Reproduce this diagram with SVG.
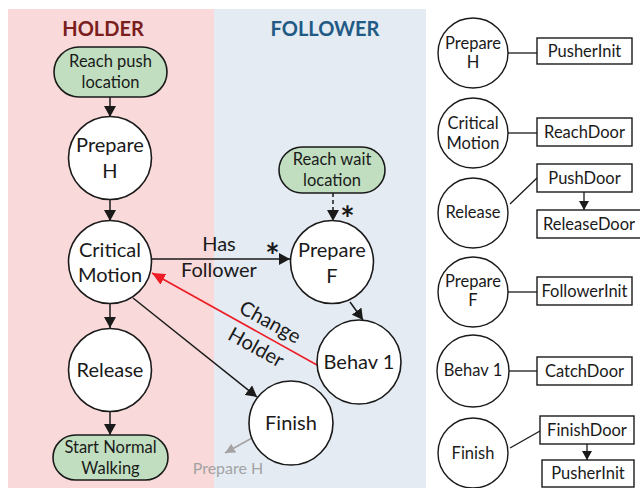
<svg xmlns="http://www.w3.org/2000/svg" width="640" height="488" viewBox="0 0 640 488">
<style>
text{font-family:Lato,"Liberation Sans",sans-serif;fill:#1a1a1a;text-anchor:middle}
.big{font-size:20px}
.mid{font-size:16.5px}
.node{fill:#fff;stroke:#1a1a1a;stroke-width:1.6}
.green{fill:#c1dfc0;stroke:#1a1a1a;stroke-width:1.6}
.box{fill:#fff;stroke:#1a1a1a;stroke-width:1.4}
.sm{fill:#fff;stroke:#1a1a1a;stroke-width:1.4}
.ln{stroke:#1a1a1a;stroke-width:1.5;fill:none}
.hd{font-size:20px;font-weight:bold}
.ast{font-size:34px;font-weight:bold}
</style>
<defs>
<marker id="ah" markerUnits="userSpaceOnUse" markerWidth="11" markerHeight="12" refX="11" refY="6" orient="auto" viewBox="0 0 11 12"><path d="M0,0 L11,6 L0,12 z" fill="#1a1a1a"/></marker>
<marker id="ahs" markerUnits="userSpaceOnUse" markerWidth="9" markerHeight="10" refX="9" refY="5" orient="auto" viewBox="0 0 9 10"><path d="M0,0 L9,5 L0,10 z" fill="#1a1a1a"/></marker>
<marker id="ar" markerUnits="userSpaceOnUse" markerWidth="13" markerHeight="12" refX="13" refY="6" orient="auto" viewBox="0 0 13 12"><path d="M0,0 L13,6 L0,12 z" fill="#ee1c24"/></marker>
<marker id="ag" markerUnits="userSpaceOnUse" markerWidth="10" markerHeight="10" refX="10" refY="5" orient="auto" viewBox="0 0 10 10"><path d="M0,0 L10,5 L0,10 z" fill="#a3a3a3"/></marker>
</defs>
<g id="lanes">
<rect x="8" y="9" width="206" height="479" fill="#f9d9d9"/>
<rect x="214" y="9" width="212" height="479" fill="#e4ebf3"/>
<text class="hd" x="103" y="36" style="fill:#7a1e1e">HOLDER</text>
<text class="hd" x="325" y="36" style="fill:#215a84">FOLLOWER</text>
</g>
<g id="connectors">
<line class="ln" x1="110" y1="97" x2="110" y2="117" marker-end="url(#ah)"/>
<line class="ln" x1="110" y1="200" x2="110" y2="221" marker-end="url(#ah)"/>
<line class="ln" x1="110" y1="303" x2="110" y2="328" marker-end="url(#ah)"/>
<line class="ln" x1="110" y1="412" x2="110" y2="435" marker-end="url(#ah)"/>
<line class="ln" x1="152" y1="259" x2="290" y2="259" marker-end="url(#ah)"/>
<line class="ln" x1="333" y1="193" x2="333" y2="221" stroke-dasharray="4,3" marker-end="url(#ah)"/>
<line class="ln" x1="350" y1="302" x2="363" y2="320" marker-end="url(#ah)"/>
<line x1="317" y1="365" x2="152" y2="273" stroke="#ee1c24" stroke-width="1.6" marker-end="url(#ar)"/>
<line class="ln" x1="133" y1="298" x2="257" y2="397" marker-end="url(#ah)"/>
<line x1="252" y1="438" x2="225" y2="453" stroke="#a3a3a3" stroke-width="1.6" marker-end="url(#ag)"/>
<text class="big" x="219" y="251">Has</text>
<text class="big" x="219" y="277">Follower</text>
<text class="ast" x="272.5" y="268">*</text>
<text class="ast" x="347.5" y="231">*</text>
<g transform="translate(263,335) rotate(29)">
<text class="big" x="0" y="-8">Change</text>
<text class="big" x="0" y="21">Holder</text>
</g>
<text x="228" y="474" style="font-size:16px;fill:#a3a3a3">Prepare H</text>
<line class="ln" x1="508" y1="53" x2="537" y2="53" style="stroke-width:1.3"/>
<line class="ln" x1="508" y1="133" x2="537" y2="133" style="stroke-width:1.3"/>
<line class="ln" x1="510" y1="204" x2="537" y2="178" style="stroke-width:1.3"/>
<line class="ln" x1="584" y1="192" x2="584" y2="210" style="stroke-width:1.3" marker-end="url(#ahs)"/>
<line class="ln" x1="508" y1="292" x2="537" y2="292" style="stroke-width:1.3"/>
<line class="ln" x1="509" y1="371" x2="537" y2="371" style="stroke-width:1.3"/>
<line class="ln" x1="510" y1="448" x2="540" y2="431" style="stroke-width:1.3"/>
<line class="ln" x1="587" y1="444" x2="587" y2="460" style="stroke-width:1.3" marker-end="url(#ahs)"/>
</g>
<g id="reach-push"><rect class="green" x="54" y="47" width="113" height="50" rx="25"/><text class="mid" x="110.5" y="67">Reach push</text><text class="mid" x="110.5" y="88">location</text></g>
<g id="prepare-h"><circle class="node" cx="110" cy="158" r="41.5"/><text class="big" x="110" y="152">Prepare</text><text class="big" x="110" y="178">H</text></g>
<g id="critical-motion"><circle class="node" cx="110" cy="262" r="41.5"/><text class="big" x="110" y="257">Critical</text><text class="big" x="110" y="282">Motion</text></g>
<g id="release"><circle class="node" cx="110" cy="370" r="41.5"/><text class="big" x="110" y="377">Release</text></g>
<g id="start-walking"><rect class="green" x="53" y="435" width="115" height="45" rx="22.5"/><text class="mid" x="110.5" y="453">Start Normal</text><text class="mid" x="110.5" y="474">Walking</text></g>
<g id="reach-wait"><rect class="green" x="279" y="147" width="106" height="46" rx="23"/><text class="mid" x="332" y="165">Reach wait</text><text class="mid" x="332" y="186">location</text></g>
<g id="prepare-f"><circle class="node" cx="332" cy="262" r="41.5"/><text class="big" x="332" y="257">Prepare</text><text class="big" x="332" y="283">F</text></g>
<g id="behav1"><circle class="node" cx="359" cy="362" r="42"/><text class="big" x="359" y="369">Behav 1</text></g>
<g id="finish"><circle class="node" cx="291" cy="423" r="42"/><text class="big" x="291" y="430">Finish</text></g>
<g id="r-prepare-h"><circle class="sm" cx="473" cy="53" r="35"/><text class="mid" x="473" y="49">Prepare</text><text class="mid" x="473" y="68">H</text></g>
<g id="r-pusherinit"><rect class="box" x="537" y="38" width="95" height="26"/><text class="mid" x="584.5" y="57">PusherInit</text></g>
<g id="r-critical"><circle class="sm" cx="473" cy="133" r="35"/><text class="mid" x="473" y="129">Critical</text><text class="mid" x="473" y="149">Motion</text></g>
<g id="r-reachdoor"><rect class="box" x="537" y="118" width="95" height="28"/><text class="mid" x="584.5" y="138">ReachDoor</text></g>
<g id="r-release"><circle class="sm" cx="473" cy="213" r="35"/><text class="mid" x="473" y="218">Release</text></g>
<g id="r-pushdoor"><rect class="box" x="537" y="164" width="95" height="28"/><text class="mid" x="584.5" y="184">PushDoor</text></g>
<g id="r-releasedoor"><rect class="box" x="537" y="210" width="106" height="28"/><text class="mid" x="589" y="230">ReleaseDoor</text></g>
<g id="r-prepare-f"><circle class="sm" cx="473" cy="292" r="35"/><text class="mid" x="473" y="287">Prepare</text><text class="mid" x="473" y="306">F</text></g>
<g id="r-followerinit"><rect class="box" x="537" y="277" width="95" height="28"/><text class="mid" x="584.5" y="297">FollowerInit</text></g>
<g id="r-behav1"><circle class="sm" cx="473" cy="371" r="36"/><text class="mid" x="473" y="376">Behav 1</text></g>
<g id="r-catchdoor"><rect class="box" x="537" y="357" width="95" height="28"/><text class="mid" x="584.5" y="377">CatchDoor</text></g>
<g id="r-finish"><circle class="sm" cx="473" cy="453" r="35"/><text class="mid" x="473" y="459">Finish</text></g>
<g id="r-finishdoor"><rect class="box" x="540" y="416" width="94" height="28"/><text class="mid" x="587" y="436">FinishDoor</text></g>
<g id="r-pusherinit2"><rect class="box" x="542" y="460" width="92" height="27"/><text class="mid" x="588" y="479">PusherInit</text></g>
</svg>
